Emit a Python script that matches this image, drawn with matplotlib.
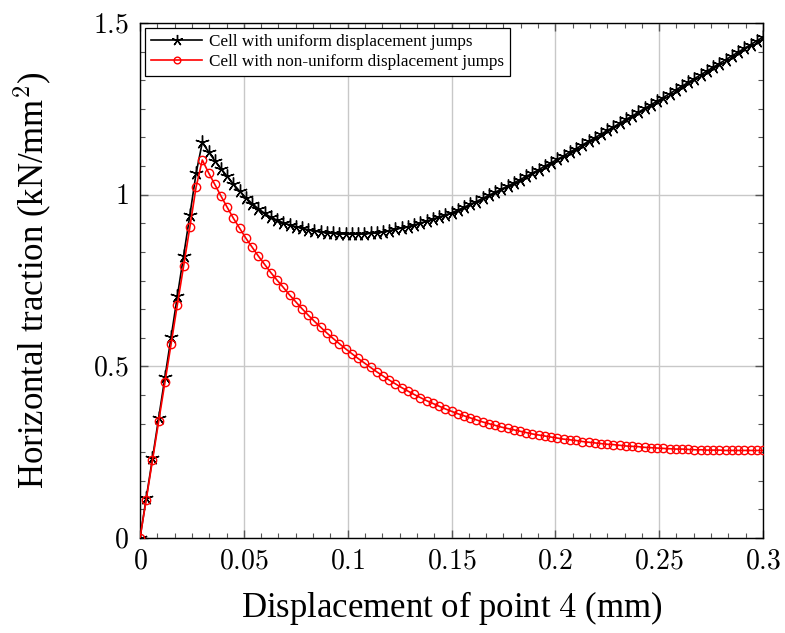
import matplotlib
matplotlib.use("Agg")
import matplotlib.pyplot as plt
from matplotlib.ticker import MultipleLocator
import numpy as np

# displacement steps (mm)
disp = [round(0.003 * k, 3) for k in range(101)]

uniform = [
    0.000, 0.116, 0.232, 0.350, 0.468, 0.586, 0.705, 0.822, 0.940, 1.062,
    1.152, 1.125, 1.099, 1.076, 1.053, 1.031, 1.010, 0.991, 0.974, 0.959,
    0.946, 0.934, 0.926, 0.918, 0.912, 0.907, 0.902, 0.898, 0.894, 0.891,
    0.889, 0.887, 0.886, 0.885, 0.885, 0.885, 0.886, 0.887, 0.889, 0.892,
    0.895, 0.899, 0.903, 0.907, 0.912, 0.917, 0.923, 0.929, 0.935, 0.941,
    0.947, 0.955, 0.963, 0.972, 0.980, 0.989, 0.998, 1.007, 1.016, 1.025,
    1.034, 1.044, 1.053, 1.063, 1.073, 1.083, 1.093, 1.103, 1.113, 1.124,
    1.134, 1.145, 1.155, 1.166, 1.176, 1.187, 1.197, 1.208, 1.219, 1.229,
    1.240, 1.251, 1.262, 1.272, 1.283, 1.294, 1.305, 1.316, 1.327, 1.338,
    1.349, 1.360, 1.371, 1.382, 1.393, 1.404, 1.415, 1.426, 1.437, 1.448,
    1.459,
]

non_uniform = [
    0.000, 0.112, 0.226, 0.340, 0.453, 0.566, 0.680, 0.792, 0.905, 1.022,
    1.101, 1.064, 1.030, 0.996, 0.963, 0.931, 0.902, 0.873, 0.847, 0.821,
    0.797, 0.773, 0.751, 0.730, 0.708, 0.688, 0.668, 0.649, 0.631, 0.614,
    0.597, 0.581, 0.566, 0.551, 0.537, 0.523, 0.510, 0.497, 0.484, 0.472,
    0.460, 0.449, 0.438, 0.428, 0.418, 0.409, 0.400, 0.392, 0.384, 0.376,
    0.369, 0.362, 0.356, 0.350, 0.344, 0.338, 0.333, 0.328, 0.323, 0.319,
    0.315, 0.311, 0.307, 0.303, 0.300, 0.297, 0.294, 0.291, 0.288, 0.286,
    0.284, 0.281, 0.279, 0.277, 0.275, 0.273, 0.272, 0.270, 0.268, 0.267,
    0.266, 0.264, 0.263, 0.262, 0.261, 0.260, 0.259, 0.259, 0.258, 0.257,
    0.257, 0.256, 0.256, 0.256, 0.255, 0.255, 0.255, 0.255, 0.255, 0.255,
    0.255,
]

x_ticks = [0, 0.05, 0.1, 0.15, 0.2, 0.25, 0.3]
x_tick_labels = ["0", "0.05", "0.1", "0.15", "0.2", "0.25", "0.3"]
y_ticks = [0, 0.5, 1, 1.5]
y_tick_labels = ["0", "0.5", "1", "1.5"]

plt.rcParams["font.family"] = ["Liberation Serif", "DejaVu Serif"]
plt.rcParams["mathtext.fontset"] = "cm"

fig = plt.figure(figsize=(7.85, 6.33), dpi=100)
ax = fig.add_axes([140 / 785, 95 / 633, 623 / 785, 515 / 633])

ax.plot(disp, uniform, color="black", lw=1.2, marker=(5, 2, 0), ms=10,
        mew=1.0, label="Cell with uniform displacement jumps", zorder=3)
ax.plot(disp, non_uniform, color="red", lw=1.2, marker="o", ms=6,
        mfc="none", mec="red", mew=1.0,
        label="Cell with non-uniform displacement jumps", zorder=3)

ax.set_xlim(0, 0.3)
ax.set_ylim(0, 1.5)
ax.set_xticks(x_ticks)
ax.set_xticklabels(["$%s$" % t for t in x_tick_labels])
ax.set_yticks(y_ticks)
ax.set_yticklabels(["$%s$" % t for t in y_tick_labels])
ax.xaxis.set_minor_locator(MultipleLocator(0.05 / 6))
ax.yaxis.set_minor_locator(MultipleLocator(0.5 / 6))
ax.tick_params(which="both", direction="in", top=True, right=True,
               color="#555555")
ax.tick_params(which="major", length=6, width=1.0, labelsize=20, pad=8)
ax.tick_params(which="minor", length=3.5, width=0.8)
ax.grid(True, which="major", color="#c8c8c8", lw=1.0, zorder=0)
ax.set_axisbelow(True)
for s in ax.spines.values():
    s.set_linewidth(1.0)
    s.set_color("black")

ax.set_xlabel("Displacement of point $4$ (mm)", fontsize=25, labelpad=11)
ax.set_ylabel("Horizontal traction (kN/mm$^2$)", fontsize=25, labelpad=29)

leg = ax.legend(loc="upper left", fontsize=12.3, frameon=True, fancybox=False,
                edgecolor="black", framealpha=1, handlelength=3.0,
                handletextpad=0.4,
                borderaxespad=0.3, labelspacing=0.25, borderpad=0.35,
                markerscale=0.8)
leg.get_frame().set_linewidth(0.9)
leg.legend_handles[0].set_markevery([1])
leg.legend_handles[1].set_markevery([1])

fig.savefig("out.png", dpi=100)
